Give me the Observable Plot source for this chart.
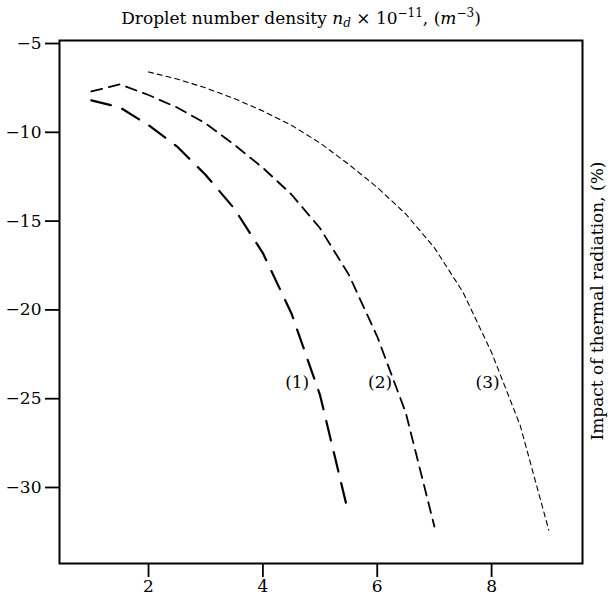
<!DOCTYPE html>
<html><head><meta charset="utf-8">
<script src="https://cdn.jsdelivr.net/npm/d3@7"></script>
<script src="https://cdn.jsdelivr.net/npm/@observablehq/plot@0.6"></script>
<style>body{margin:0;background:#fff}</style>
</head><body><div id="chart"></div>
<script>
const x1 = [1, 1.5, 2, 2.5, 3, 3.5, 4, 4.5, 5, 5.5];
const y1 = [-8.2, -8.6, -9.6, -10.8, -12.4, -14.3, -16.8, -20.2, -24.8, -31.5];
const x2 = [1, 1.5, 2, 2.5, 3, 3.5, 4, 4.5, 5, 5.5, 6, 6.5, 7];
const y2 = [-7.7, -7.3, -7.9, -8.6, -9.5, -10.7, -12.0, -13.5, -15.4, -18.0, -21.5, -25.8, -32.2];
const x3 = [2, 2.5, 3, 3.5, 4, 4.5, 5, 5.5, 6, 6.5, 7, 7.5, 8, 8.5, 9];
const y3 = [-6.6, -7.0, -7.5, -8.1, -8.8, -9.6, -10.6, -11.8, -13.1, -14.6, -16.5, -19.0, -22.4, -26.5, -32.4];
const labels = ["(1)", "(2)", "(3)"];
const labelX = [4.6, 6.05, 7.93];
const labelY = [-24.1, -24.1, -24.1];
const xTicks = [2, 4, 6, 8];
const yTicks = [-5, -10, -15, -20, -25, -30];
const sideLabel = "Impact of thermal radiation, (%)";

const font = "'DejaVu Serif', serif";
const fs = 17;
const mk = (xs, ys) => xs.map((x, i) => ({x, y: ys[i]}));
const lbl = labels.map((t, i) => ({t, x: labelX[i], y: labelY[i]}));

const chart = Plot.plot({
  width: 609, height: 597,
  marginLeft: 59, marginRight: 27, marginTop: 40, marginBottom: 34,
  style: {fontFamily: font, fontSize: fs + "px", background: "#fff", color: "#000"},
  x: {domain: [0.443, 9.59]},
  y: {domain: [-34.28, -4.83]},
  marks: [
    Plot.axisX({ticks: xTicks, tickSize: 14, tickPadding: 2, tickFormat: d => String(d), label: null, strokeWidth: 1.8, fontSize: fs}),
    Plot.axisY({ticks: yTicks, tickSize: 14, tickPadding: 4, tickFormat: d => String(d).replace("-", "\u2212"), label: null, strokeWidth: 1.8, fontSize: fs}),
    Plot.line(mk(x1, y1), {x: "x", y: "y", stroke: "#000", strokeWidth: 2.2, strokeDasharray: "20,12", curve: "linear"}),
    Plot.line(mk(x2, y2), {x: "x", y: "y", stroke: "#000", strokeWidth: 1.8, strokeDasharray: "11,7", curve: "linear"}),
    Plot.line(mk(x3, y3), {x: "x", y: "y", stroke: "#000", strokeWidth: 1.1, strokeDasharray: "5,4", curve: "linear"}),
    Plot.text(lbl, {x: "x", y: "y", text: "t", fontSize: fs, fill: "#000"}),
    Plot.frame({stroke: "#000", strokeWidth: 2})
  ]
});
document.getElementById("chart").appendChild(chart);

const svg = d3.select(chart);
// Right side label
svg.append("text")
  .attr("transform", "translate(603,301) rotate(-90)")
  .attr("text-anchor", "middle")
  .attr("font-family", font).attr("font-size", fs).attr("fill", "#000")
  .text(sideLabel);

// Title with math formatting
const t = svg.append("text")
  .attr("x", 301).attr("y", 24)
  .attr("text-anchor", "middle")
  .attr("font-family", font).attr("font-size", fs).attr("fill", "#000");
t.append("tspan").text("Droplet number density ");
t.append("tspan").attr("font-style", "italic").text("n");
t.append("tspan").attr("font-style", "italic").attr("font-size", 12).attr("dy", 3).text("d");
t.append("tspan").attr("dy", -3).text(" \u00d7 10");
t.append("tspan").attr("font-size", 12).attr("dy", -7).text("\u221211");
t.append("tspan").attr("dy", 7).text(", (");
t.append("tspan").attr("font-style", "italic").text("m");
t.append("tspan").attr("font-size", 12).attr("dy", -7).text("\u22123");
t.append("tspan").attr("dy", 7).text(")");
</script>
</body></html>
